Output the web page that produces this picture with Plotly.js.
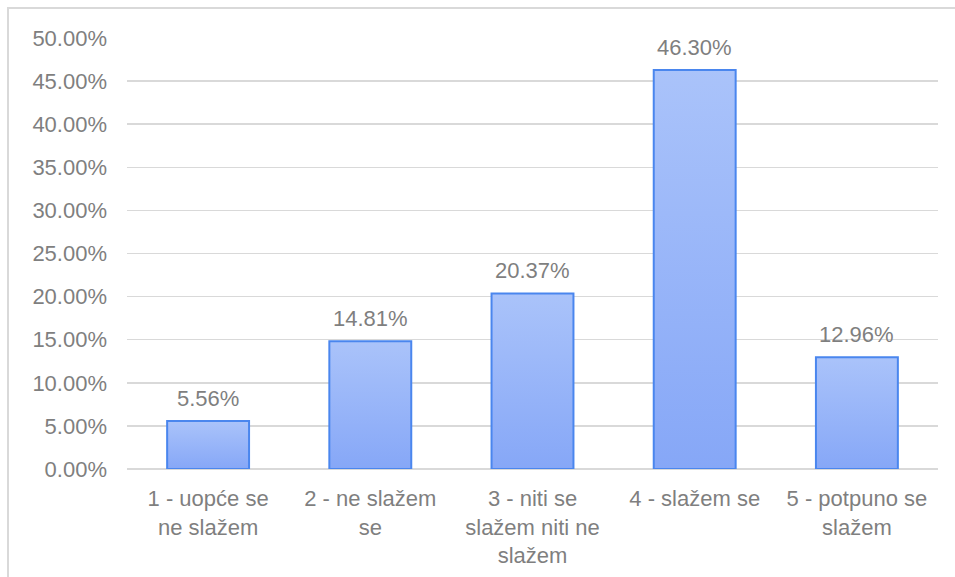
<!DOCTYPE html>
<html>
<head>
<meta charset="utf-8">
<script src="https://cdn.plot.ly/plotly-3.0.1.min.js"></script>
<style>
  html, body { margin: 0; padding: 0; background: #fff; }
  #wrap { position: relative; width: 955px; height: 577px; overflow: hidden; }
  #chart { width: 955px; height: 577px; }
  #frame { position: absolute; left: 7px; top: 7px; width: 980px; height: 600px;
           border: 2px solid #d9d9d9; pointer-events: none; box-sizing: border-box; }
</style>
</head>
<body>
<div id="wrap">
  <div id="chart"></div>
  <div id="frame"></div>
</div>
<script>
const categories = [
  "1 - uopće se<br>ne slažem",
  "2 - ne slažem<br>se",
  "3 - niti se<br>slažem niti ne<br>slažem",
  "4 - slažem se",
  "5 - potpuno se<br>slažem"
];
const values = [0.0556, 0.1481, 0.2037, 0.4630, 0.1296];
const valueLabels = ["5.56%", "14.81%", "20.37%", "46.30%", "12.96%"];
const yTicks = [0, 0.05, 0.10, 0.15, 0.20, 0.25, 0.30, 0.35, 0.40, 0.45, 0.50];

const gray = '#7f7f7f';
const font = 'Liberation Sans, Arial, sans-serif';
const fs = 22;

const trace = {
  type: 'bar',
  x: categories,
  y: values,
  marker: { color: '#98b4f8', line: { color: '#4a86ee', width: 2 } },
  cliponaxis: false,
  hoverinfo: 'none'
};

const annotations = categories.map((c, i) => ({
  x: c, y: values[i], xref: 'x', yref: 'y',
  text: valueLabels[i], showarrow: false,
  yanchor: 'bottom', yshift: 8,
  font: { family: font, size: fs, color: gray }
}));

const layout = {
  width: 955, height: 577,
  margin: { l: 127, r: 17, t: 38, b: 108 },
  paper_bgcolor: '#fff', plot_bgcolor: '#fff',
  bargap: 0.495,
  showlegend: false,
  font: { family: font, size: fs, color: gray },
  annotations: annotations,
  xaxis: {
    showgrid: false, showline: false, zeroline: false,
    ticks: '', tickfont: { family: font, size: fs, color: gray },
    ticklabelstandoff: 14
  },
  yaxis: {
    range: [0, 0.5], tickvals: yTicks, tickformat: '.2%',
    showgrid: true, gridcolor: '#d9d9d9', gridwidth: 1.5,
    zeroline: true, zerolinecolor: '#d9d9d9', zerolinewidth: 1.5,
    showline: false, ticks: '',
    tickfont: { family: font, size: fs, color: gray },
    ticklabelstandoff: 19
  }
};

Plotly.newPlot('chart', [trace], layout, { displayModeBar: false, staticPlot: true }).then(gd => {
  // vertical gradient fill for the bars (light top, deeper bottom)
  const svg = gd.querySelector('svg.main-svg');
  const ns = 'http://www.w3.org/2000/svg';
  let defs = svg.querySelector('defs');
  if (!defs) { defs = document.createElementNS(ns, 'defs'); svg.insertBefore(defs, svg.firstChild); }
  const grad = document.createElementNS(ns, 'linearGradient');
  grad.setAttribute('id', 'barGrad');
  grad.setAttribute('x1', '0'); grad.setAttribute('y1', '0');
  grad.setAttribute('x2', '0'); grad.setAttribute('y2', '1');
  [['0', '#aac3fa'], ['1', '#86a7f7']].forEach(([o, c]) => {
    const s = document.createElementNS(ns, 'stop');
    s.setAttribute('offset', o); s.setAttribute('stop-color', c);
    grad.appendChild(s);
  });
  defs.appendChild(grad);
  gd.querySelectorAll('.bars .point path').forEach(p => {
    p.style.fill = 'url(#barGrad)';
    p.style.fillOpacity = 1;
  });
});
</script>
</body>
</html>
